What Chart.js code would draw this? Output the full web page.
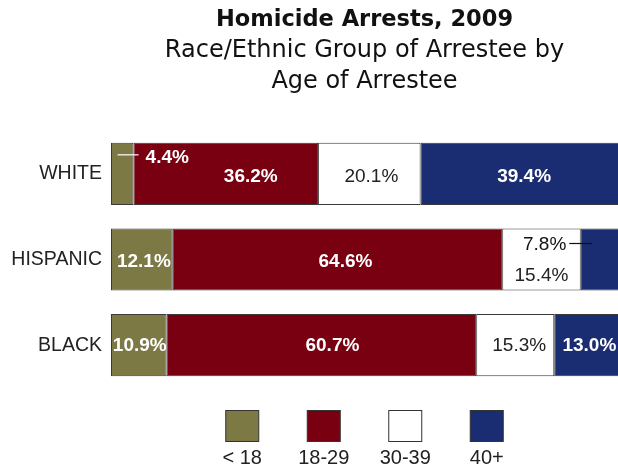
<!DOCTYPE html>
<html>
<head>
<meta charset="utf-8">
<script src="https://cdn.jsdelivr.net/npm/chart.js@4.4.1/dist/chart.umd.min.js"></script>
<style>
  html, body { margin: 0; padding: 0; background: #fff; overflow: hidden; }
  #wrap { width: 618px; height: 469px; }
</style>
</head>
<body>
<div id="wrap"><canvas id="chart"></canvas></div>
<script>
const groups = ['WHITE', 'HISPANIC', 'BLACK'];
const ageBands = ['< 18', '18-29', '30-39', '40+'];
const under18 = [4.4, 12.1, 10.9];
const age18to29 = [36.2, 64.6, 60.7];
const age30to39 = [20.1, 15.4, 15.3];
const age40plus = [39.4, 7.8, 13.0];

const colors = ['#7d7945', '#790011', '#ffffff', '#1b2d72'];
const textColors = ['#fff', '#fff', '#222', '#fff'];
const boldText = [true, true, false, true];

// label nudges, key = dataset,row
const nudge = {
  '0,0': {dx: 45, dy: -16, line: {side: 'left', gap: 7, len: 21, dy: -3, color: '#fff'}},
  '1,0': {dx: 25, dy: 3},
  '1,1': {dx: 8, dy: 2},
  '1,2': {dx: 11, dy: 1},
  '2,0': {dx: 2, dy: 3},
  '2,1': {dx: 0, dy: 16},
  '3,1': {dx: -56, dy: -15, bold: false, line: {side: 'right', gap: 3, len: 23, dy: -1, color: '#111'}},
  '3,0': {dx: 3, dy: 3},
  '3,2': {dx: 2, dy: 1},
  '0,1': {dx: 2, dy: 2},
  '0,2': {dx: 1, dy: 1},
  '2,2': {dx: 4, dy: 1}
};

const valueLabels = {
  id: 'valueLabels',
  afterDatasetsDraw(chart) {
    const ctx = chart.ctx;
    ctx.save();
    ctx.textAlign = 'center';
    ctx.textBaseline = 'middle';
    chart.data.datasets.forEach((ds, i) => {
      const meta = chart.getDatasetMeta(i);
      meta.data.forEach((bar, j) => {
        const p = bar.getProps(['x', 'base', 'y'], true);
        const n = nudge[i + ',' + j] || {dx: 0, dy: 0};
        const cx = (p.x + p.base) / 2 + n.dx;
        const cy = p.y + n.dy;
        const txt = ds.data[j].toFixed(1) + '%';
        const bold = n.bold === undefined ? boldText[i] : n.bold;
        ctx.font = (bold ? 'bold ' : '') + '19px "Liberation Sans", Arial, sans-serif';
        ctx.fillStyle = n.line ? n.line.color : textColors[i];
        ctx.fillText(txt, cx, cy);
        if (n.line) {
          const w = ctx.measureText(txt).width;
          const ly = cy + n.line.dy;
          let x1, x2;
          if (n.line.side === 'left') {
            x1 = cx - w / 2 - n.line.gap;
            x2 = x1 - n.line.len;
          } else {
            x1 = cx + w / 2 + n.line.gap;
            x2 = x1 + n.line.len;
          }
          ctx.strokeStyle = n.line.color;
          ctx.lineWidth = 1.2;
          ctx.beginPath();
          ctx.moveTo(x1, ly);
          ctx.lineTo(x2, ly);
          ctx.stroke();
        }
      });
    });
    ctx.restore();
  }
};

const bottomLegend = {
  id: 'bottomLegend',
  afterDraw(chart) {
    const ctx = chart.ctx;
    const area = chart.chartArea;
    const mid = (area.left + area.right) / 2;
    ctx.save();
    chart.data.datasets.forEach((ds, i) => {
      const cx = mid + (i - 1.5) * 81.5;
      ctx.fillStyle = ds.backgroundColor;
      ctx.strokeStyle = '#333';
      ctx.lineWidth = 1;
      ctx.fillRect(cx - 16.5, 410, 33, 31);
      ctx.strokeRect(cx - 16.5, 410.5, 33, 31);
      ctx.fillStyle = '#222';
      ctx.font = '20px "Liberation Sans", Arial, sans-serif';
      ctx.textAlign = 'center';
      ctx.textBaseline = 'middle';
      ctx.fillText(ds.label, cx, 458);
    });
    ctx.restore();
  }
};

const seriesValues = [under18, age18to29, age30to39, age40plus];

new Chart(document.getElementById('chart'), {
  type: 'bar',
  data: {
    labels: groups,
    datasets: seriesValues.map((vals, i) => ({
      label: ageBands[i],
      data: vals,
      backgroundColor: colors[i],
      borderColor: '#3a3a3a',
      borderWidth: 1,
      borderSkipped: false,
      categoryPercentage: 1,
      barPercentage: 0.725
    }))
  },
  options: {
    indexAxis: 'y',
    responsive: true,
    maintainAspectRatio: false,
    animation: false,
    layout: {
      padding: {top: 0, right: 0, bottom: 81, left: 0}
    },
    scales: {
      x: {
        stacked: true,
        min: 0,
        max: 99.4,
        display: false
      },
      y: {
        stacked: true,
        grid: {display: false},
        border: {display: false},
        ticks: {
          color: '#222',
          padding: 1,
          font: {family: '"Liberation Sans", Arial, sans-serif', size: 19.5}
        },
        afterFit(scale) {
          scale.width = 111;
        }
      }
    },
    plugins: {
      legend: {display: false},
      tooltip: {enabled: false},
      title: {
        display: true,
        text: 'Homicide Arrests, 2009',
        fullSize: false,
        color: '#111',
        font: {family: '"DejaVu Sans", sans-serif', size: 22.5, weight: 'bold', lineHeight: '28px'},
        padding: {top: 6, bottom: 1}
      },
      subtitle: {
        display: true,
        text: ['Race/Ethnic Group of Arrestee by', 'Age of Arrestee'],
        fullSize: false,
        color: '#111',
        font: {family: '"DejaVu Sans", sans-serif', size: 24, weight: 'normal', lineHeight: '31px'},
        padding: {top: 0, bottom: 34}
      }
    }
  },
  plugins: [valueLabels, bottomLegend]
});
</script>
</body>
</html>
